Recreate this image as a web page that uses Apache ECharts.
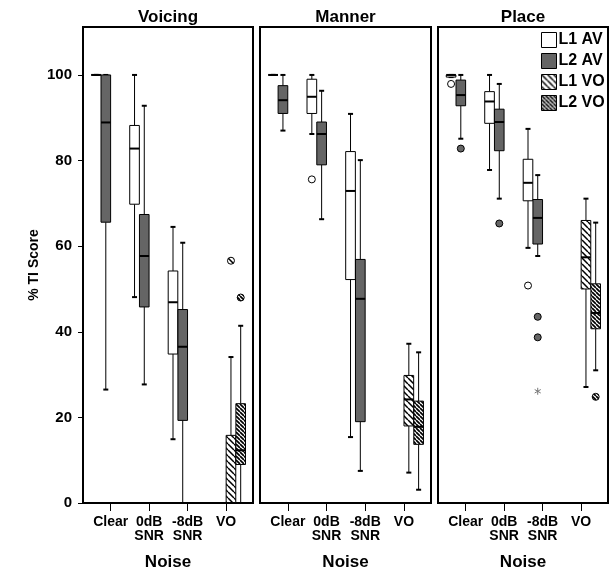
<!DOCTYPE html>
<html>
<head>
<meta charset="utf-8">
<script src="https://cdn.jsdelivr.net/npm/echarts@6/dist/echarts.min.js"></script>
<style>
  html, body { margin: 0; padding: 0; background: #fff; }
  #chart { width: 613px; height: 569px; }
</style>
</head>
<body>
<div id="chart"></div>
<script>
// categories / labels
const categories = ['Clear', '0dB\nSNR', '-8dB\nSNR', 'VO'];
const panelTitles = ['Voicing', 'Manner', 'Place'];
const groupNames = ['L1 AV', 'L2 AV', 'L1 VO', 'L2 VO'];
const yTicks = [0, 20, 40, 60, 80, 100];

// box stats: [category, low whisker, Q1, median, Q3, high whisker]
const voicingL1AV = [[0, 100, 100, 100, 100, 100], [1, 48.1, 69.8, 82.8, 88.2, 100], [2, 14.9, 34.8, 46.9, 54.2, 64.5]];
const voicingL2AV = [[0, 26.5, 65.6, 88.9, 100, 100], [1, 27.7, 45.8, 57.7, 67.4, 92.8], [2, 0, 19.3, 36.5, 45.2, 60.8]];
const voicingL1VO = [[3, 0, 0, 0, 15.8, 34.1]];
const voicingL2VO = [[3, 0, 9.0, 12.3, 23.2, 41.4]];

const mannerL1AV = [[0, 100, 100, 100, 100, 100], [1, 86.2, 91.0, 94.9, 99.0, 100], [2, 15.4, 52.2, 72.9, 82.1, 90.9]];
const mannerL2AV = [[0, 87.0, 91.0, 94.1, 97.5, 100], [1, 66.3, 79.0, 86.2, 89.0, 96.3], [2, 7.5, 19.0, 47.7, 56.9, 80.1]];
const mannerL1VO = [[3, 7.1, 18.0, 24.2, 29.8, 37.2]];
const mannerL2VO = [[3, 3.1, 13.7, 17.8, 23.8, 35.2]];

const placeL1AV = [[0, 99.5, 99.5, 100, 100, 100], [1, 77.8, 88.7, 93.8, 96.1, 100], [2, 59.6, 70.6, 74.8, 80.3, 87.4]];
const placeL2AV = [[0, 85.1, 92.8, 95.3, 98.8, 100], [1, 71.1, 82.3, 89.0, 92.0, 97.9], [2, 57.7, 60.5, 66.6, 70.9, 76.6]];
const placeL1VO = [[3, 27.1, 50.0, 57.4, 66.0, 71.1]];
const placeL2VO = [[3, 31.0, 40.7, 44.4, 51.2, 65.5]];

// outliers: [category, value]
const voicingOutL1VO = [[3, 56.6]];
const voicingOutL2VO = [[3, 48.0]];
const mannerOutL1AV = [[1, 75.6]];
const placeOutL1AV = [[0, 97.9], [2, 50.8]];
const placeOutL2AV = [[0, 82.8], [1, 65.3], [2, 43.5], [2, 38.7]];
const placeExtL2AV = [[2, 26.1]];
const placeOutL2VO = [[3, 24.8]];

const panelBoxes = [
  [voicingL1AV, voicingL2AV, voicingL1VO, voicingL2VO],
  [mannerL1AV, mannerL2AV, mannerL1VO, mannerL2VO],
  [placeL1AV, placeL2AV, placeL1VO, placeL2VO]
];
const panelOutliers = [
  [[], [], voicingOutL1VO, voicingOutL2VO],
  [mannerOutL1AV, [], [], []],
  [placeOutL1AV, placeOutL2AV, [], placeOutL2VO]
];
const panelExtremes = [
  [[], [], [], []],
  [[], [], [], []],
  [[], placeExtL2AV, [], []]
];

function hatch(step, width) {
  const c = document.createElement('canvas');
  c.width = c.height = step;
  const ctx = c.getContext('2d');
  ctx.fillStyle = '#fff';
  ctx.fillRect(0, 0, step, step);
  ctx.strokeStyle = '#000';
  ctx.lineWidth = width;
  ctx.beginPath();
  for (let k = -1; k <= 1; k++) {
    ctx.moveTo(k * step, 0);
    ctx.lineTo(k * step + step, step);
  }
  ctx.stroke();
  return { image: c, repeat: 'repeat' };
}

const fills = ['#ffffff', '#656565', hatch(6, 1.5), hatch(4, 1.7)];
const offsets = [-0.38, -0.127, 0.127, 0.38];
const boxWidth = 0.25;
const capWidth = 0.13;
const font = 'Liberation Sans, Arial, sans-serif';

function boxRenderer(offset, fill) {
  return function (params, api) {
    const c = api.value(0) + offset;
    const lo = api.coord([c, api.value(1)]);
    const q1 = api.coord([c, api.value(2)]);
    const med = api.coord([c, api.value(3)]);
    const q3 = api.coord([c, api.value(4)]);
    const hi = api.coord([c, api.value(5)]);
    const half = api.size([boxWidth, 0])[0] / 2;
    const cap = api.size([capWidth, 0])[0] / 2;
    const x = med[0];
    const thin = { stroke: '#000', lineWidth: 1 };
    const thick = { stroke: '#000', lineWidth: 2 };
    return {
      type: 'group',
      children: [
        { type: 'line', shape: { x1: x, y1: hi[1], x2: x, y2: q3[1] }, style: thin },
        { type: 'line', shape: { x1: x, y1: q1[1], x2: x, y2: lo[1] }, style: thin },
        { type: 'line', shape: { x1: x - cap, y1: hi[1], x2: x + cap, y2: hi[1] }, style: thick },
        { type: 'line', shape: { x1: x - cap, y1: lo[1], x2: x + cap, y2: lo[1] }, style: thick },
        { type: 'rect', shape: { x: x - half, y: q3[1], width: half * 2, height: q1[1] - q3[1] },
          style: { fill: fill, stroke: '#000', lineWidth: 1 } },
        { type: 'line', shape: { x1: x - half, y1: med[1], x2: x + half, y2: med[1] }, style: thick }
      ]
    };
  };
}

function outlierRenderer(offset, fill, star) {
  return function (params, api) {
    const p = api.coord([api.value(0) + offset, api.value(1)]);
    if (star) {
      const r = 3.5, s = { stroke: '#777', lineWidth: 1 };
      return {
        type: 'group',
        children: [0, 60, 120].map(function (a) {
          const t = a * Math.PI / 180;
          return { type: 'line', shape: { x1: p[0] - r * Math.sin(t), y1: p[1] - r * Math.cos(t),
            x2: p[0] + r * Math.sin(t), y2: p[1] + r * Math.cos(t) }, style: s };
        })
      };
    }
    return { type: 'circle', shape: { cx: p[0], cy: p[1], r: 3.5 },
      style: { fill: fill, stroke: '#000', lineWidth: 1 } };
  };
}

const grids = [
  { left: 83, top: 27, width: 170, height: 476 },
  { left: 260, top: 27, width: 171, height: 476 },
  { left: 438, top: 27, width: 170, height: 476 }
];

const series = [];
panelBoxes.forEach(function (boxes, p) {
  boxes.forEach(function (data, g) {
    series.push({
      name: groupNames[g], type: 'custom', xAxisIndex: p, yAxisIndex: p,
      renderItem: boxRenderer(offsets[g], fills[g]),
      encode: { x: 0, y: [1, 2, 3, 4, 5] },
      itemStyle: { color: fills[g] },
      data: data
    });
    series.push({
      name: groupNames[g], type: 'custom', xAxisIndex: p, yAxisIndex: p,
      renderItem: outlierRenderer(offsets[g], fills[g], false),
      encode: { x: 0, y: 1 },
      data: panelOutliers[p][g]
    });
    if (panelExtremes[p][g].length) {
      series.push({
        name: groupNames[g], type: 'custom', xAxisIndex: p, yAxisIndex: p,
        renderItem: outlierRenderer(offsets[g], fills[g], true),
        encode: { x: 0, y: 1 },
        data: panelExtremes[p][g]
      });
    }
  });
});

const chart = echarts.init(document.getElementById('chart'));
const option = {
  animation: false,
  backgroundColor: '#fff',
  textStyle: { fontFamily: font },
  title: panelTitles.map(function (t, i) {
    return {
      text: t, left: grids[i].left + grids[i].width / 2, top: 9, padding: 0, textAlign: 'center',
      textStyle: { fontFamily: font, fontSize: 17, fontWeight: 'bold', color: '#000' }
    };
  }),
  legend: {
    orient: 'vertical', left: 541, top: 32, padding: 0, itemGap: 5,
    itemWidth: 15, itemHeight: 15, icon: 'rect',
    textStyle: { fontFamily: font, fontSize: 16, fontWeight: 'bold', color: '#000', padding: [0, 0, 0, -3] },
    data: groupNames.map(function (n, g) {
      return { name: n, itemStyle: { color: fills[g], borderColor: '#000', borderWidth: 1 } };
    })
  },
  grid: grids.map(function (g) {
    return Object.assign({
      show: true, borderColor: '#000', borderWidth: 2, backgroundColor: 'transparent',
      outerBoundsMode: 'none', containLabel: false
    }, g);
  }),
  xAxis: grids.map(function (g, i) {
    return {
      type: 'value', gridIndex: i, min: -0.72, max: 3.7,
      name: 'Noise', nameLocation: 'middle', nameGap: 51,
      nameTextStyle: { fontFamily: font, fontSize: 17, fontWeight: 'bold', color: '#000' },
      axisLine: { show: true, onZero: false, lineStyle: { color: '#000', width: 2 } },
      axisTick: { show: true, length: 8, lineStyle: { color: '#000', width: 1 }, customValues: [0, 1, 2, 3] },
      axisLabel: {
        customValues: [0, 1, 2, 3], margin: 12, color: '#000',
        fontFamily: font, fontSize: 14, fontWeight: 'bold', lineHeight: 14,
        formatter: function (v) { return categories[Math.round(v)]; }
      },
      splitLine: { show: false }
    };
  }),
  yAxis: grids.map(function (g, i) {
    return {
      type: 'value', gridIndex: i, min: 0, max: 111.2, show: i === 0,
      name: i === 0 ? '% TI Score' : '', nameLocation: 'middle', nameGap: 42,
      nameTextStyle: { fontFamily: font, fontSize: 14, fontWeight: 'bold', color: '#000' },
      axisLine: { show: true, onZero: false, lineStyle: { color: '#000', width: 2 } },
      axisTick: { show: true, length: 5, lineStyle: { color: '#000', width: 1 }, customValues: yTicks },
      axisLabel: { customValues: yTicks, margin: 11, color: '#000', fontFamily: font, fontSize: 15, fontWeight: 'bold' },
      splitLine: { show: false }
    };
  }),
  series: series
};
chart.setOption(option);
window.addEventListener('resize', function () { chart.resize(); });
</script>
</body>
</html>
